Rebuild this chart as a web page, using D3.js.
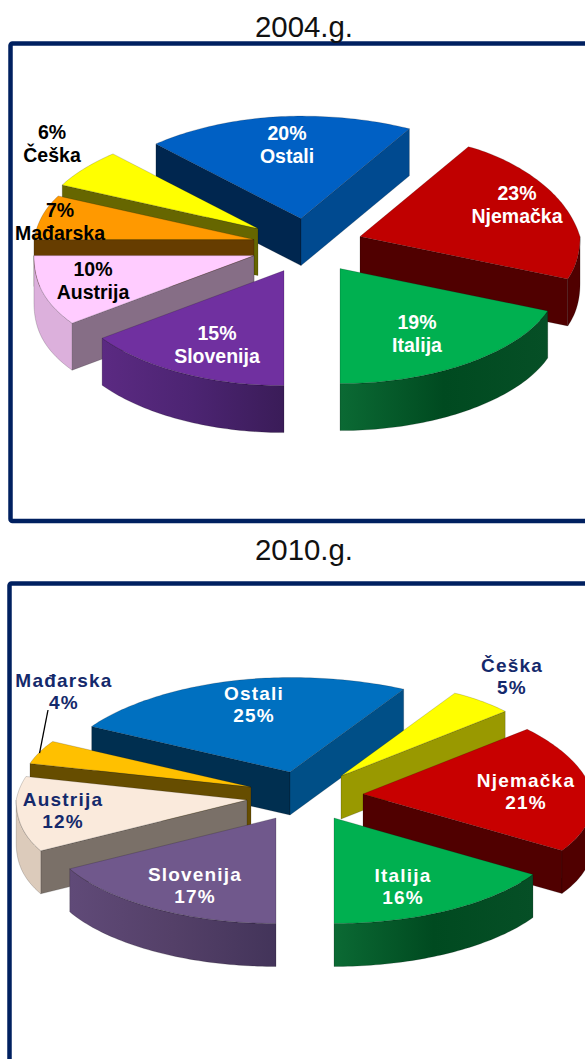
<!DOCTYPE html>
<html><head><meta charset="utf-8">
<script src="https://cdn.jsdelivr.net/npm/d3@7/dist/d3.min.js"></script>
<style>html,body{margin:0;padding:0;background:#fff}svg{display:block}</style>
</head><body><div id="c"></div>
<script>
// ---- data (anticlockwise on screen, from the front of the pie) ----
const categories2004 = ["Italija","Njemačka","Ostali","Češka","Mađarska","Austrija","Slovenija"];
const values2004     = [19,23,20,6,7,10,15];
const categories2010 = ["Italija","Njemačka","Češka","Ostali","Mađarska","Austrija","Slovenija"];
const values2010     = [16,21,5,25,4,12,17];

// ---- styles ----
const top2004    = ["#00b050","#c00000","#0060c4","#ffff00","#ff9900","#ffccff","#7030a0"];
const radial2004 = ["#004a20","#500000","#004a90","#666600","#663d00","#866e86","#3c1a58"];
const radialB2004= {Ostali:"#00264f"};
const curve2004  = [["#0b6a34","#004a20","#064f26"],["#500000"],["#004a90"],["#666600"],["#663d00"],["#dcb0dc"],["#5b2a82","#4c2472","#3a1c58"]];
const ink2004    = ["#fff","#fff","#fff","#000","#000","#000","#fff"];

const top2010    = ["#00b050","#c80000","#ffff00","#0070c0","#ffc000","#faeadc","#70588c"];
const radial2010 = ["#004a20","#500000","#999900","#004f87","#664d00","#7a7068","#43345a"];
const radialB2010= {Ostali:"#002f50"};
const curve2010  = [["#0b6a34","#004a20","#064f26"],["#500000"],["#999900"],["#004f87"],["#664d00"],["#dccbbb"],["#604a78","#544068","#43345a"]];
const ink2010    = ["#fff","#fff","#14296b","#fff","#14296b","#14296b","#fff"];

// ---- layout ----
const explode2004 = [[40,20],[60,-12],[1,-30],[-42,-20],[-46,-9],[-46,7],[-16,22]];
const explode2010 = [[34,24],[63,0],[41,-18],[-10,-22],[-49,-7],[-53,6],[-24,24]];
const label2004 = [[417,329],[517,200],[287,140],[52,139],[60,217],[93,276],[217,340]];
const label2010 = [[403,882],[526,787],[512,672],[254,700],[64,687],[63,806],[195,881]];

const charts = [
 {title:"2004.g.", titleY:37, cats:categories2004, vals:values2004, top:top2004, radial:radial2004, radialB:radialB2004,
  curve:curve2004, ink:ink2004, explode:explode2004, label:label2004, cx:300, cy:248.6, rx:225, ry:115, ryB:102.5,
  depth:47, lh:22.5, pctFirst:true, size:19.5, spacing:0},
 {title:"2010.g.", titleY:560, cats:categories2010, vals:values2010, top:top2010, radial:radial2010, radialB:radialB2010,
  curve:curve2010, ink:ink2010, explode:explode2010, label:label2010, cx:300, cy:794, rx:236, ry:105.5, ryB:94.5,
  depth:43, lh:22, pctFirst:false, size:19, spacing:1.2}
];

const svg = d3.select("#c").append("svg").attr("width",585).attr("height",1059);
const defs = svg.append("defs");
const font = "'Liberation Sans',Arial,sans-serif";
const NAVY = "#002060";

// frames
svg.append("rect").attr("x",10.5).attr("y",43.5).attr("width",640).attr("height",477.5).attr("rx",2)
   .attr("fill","none").attr("stroke",NAVY).attr("stroke-width",4.5);
svg.append("rect").attr("x",9.5).attr("y",583.5).attr("width",640).attr("height",600).attr("rx",2)
   .attr("fill","none").attr("stroke",NAVY).attr("stroke-width",4.5);

const line = d3.line();
const edge = "rgba(0,0,0,.35)";

charts.forEach((ch,ci)=>{
  svg.append("text").attr("x",304).attr("y",ch.titleY).attr("text-anchor","middle")
     .attr("font-family",font).attr("font-size",29.4).attr("fill","#111").text(ch.title);

  const pie = d3.pie().sort(null).startAngle(0).endAngle(2*Math.PI);
  const arcs = pie(ch.vals);
  const rX = d3.scaleLinear().domain([0,1]).range([0,ch.rx]);
  // perspective squeeze of the ellipse: the far half and the flanks shrink a little
  const squeeze = (s,c)=>{
    let f = 1 - .022*Math.pow(s*s,8);
    if(c<0) f += s<0 ? .08*c : .29*c*Math.max(0,s-.5)*-1*-1;
    return f;
  };
  const project = (a,r=1)=>{
    const s=Math.sin(a), c=Math.cos(a);
    return [rX(r)*s*squeeze(s,c), r*(c>0?ch.ry:ch.ryB)*c];
  };
  const slices = arcs.map((d,i)=>({
    i, name:ch.cats[i], v:ch.vals[i], a0:d.startAngle, a1:d.endAngle,
    ox:ch.cx+ch.explode[i][0], oy:ch.cy+ch.explode[i][1]
  })).sort((p,q)=>d3.ascending(p.oy,q.oy));

  slices.forEach(s=>{
    const g = svg.append("g").attr("transform",`translate(${s.ox},${s.oy})`);
    const arcPts=(a,b)=>{
      const n=Math.max(2,Math.ceil((b-a)/0.02));
      return d3.range(n+1).map(k=>project(a+(b-a)*k/n));
    };
    const drop = ([x,y])=>[x,y+ch.depth];
    const face=(pts,fill)=>g.append("path").attr("d",line(pts)+"Z").attr("fill",fill)
        .attr("stroke",edge).attr("stroke-width",.5).attr("stroke-linejoin","round");
    const PI=Math.PI, O=[0,0];

    // radial walls
    if(s.a1>PI && s.a1<2*PI-1e-6){
      const e=project(s.a1);
      face([O,e,drop(e),drop(O)], ch.radialB[s.name]||ch.radial[s.i]);
    }
    if(s.a0>1e-6 && s.a0<PI){
      const e=project(s.a0);
      face([O,e,drop(e),drop(O)], ch.radial[s.i]);
    }
    // curved outer wall (front half only)
    [[0,PI/2],[1.5*PI,2*PI]].forEach(([lo,hi],wi)=>{
      const a=Math.max(lo,s.a0), b=Math.min(hi,s.a1);
      if(b<=a) return;
      const pts=arcPts(a,b);
      const stops=ch.curve[s.i];
      let fill=stops[0];
      if(stops.length>1){
        const id=`w${ci}-${s.i}-${wi}`;
        const xs=d3.extent(pts,p=>p[0]);
        const gr=defs.append("linearGradient").attr("id",id).attr("gradientUnits","userSpaceOnUse")
          .attr("x1",xs[0]).attr("x2",xs[1]).attr("y1",0).attr("y2",0);
        stops.forEach((c,k)=>gr.append("stop").attr("offset",k/(stops.length-1)).attr("stop-color",c));
        fill=`url(#${id})`;
      }
      face(pts.concat(pts.slice().reverse().map(drop)),fill);
    });
    // top
    face([O].concat(arcPts(s.a0,s.a1)), ch.top[s.i]);
  });

  // labels on top of every slice
  arcs.forEach((d,i)=>{
    const pct=ch.vals[i]+"%", name=ch.cats[i];
    const rows=ch.pctFirst?[pct,name]:[name,pct];
    rows.forEach((t,k)=>{
      svg.append("text").attr("x",ch.label[i][0]).attr("y",ch.label[i][1]+k*ch.lh)
        .attr("text-anchor","middle").attr("font-family",font).attr("font-weight","bold")
        .attr("font-size",ch.size).attr("letter-spacing",ch.spacing).attr("fill",ch.ink[i]).text(t);
    });
  });

  // leader line for Mađarska 2010
  if(ci===1){
    const m=ch.cats.indexOf("Mađarska");
    const a=arcs[m];
    const p=project((a.startAngle+a.endAngle)/2);
    svg.append("path").attr("d",line([[ch.label[m][0]-16,ch.label[m][1]+23],
        [ch.cx+ch.explode[m][0]+p[0], ch.cy+ch.explode[m][1]+p[1]+1]]))
       .attr("stroke","#000").attr("stroke-width",1.3).attr("fill","none");
  }
});
</script></body></html>
